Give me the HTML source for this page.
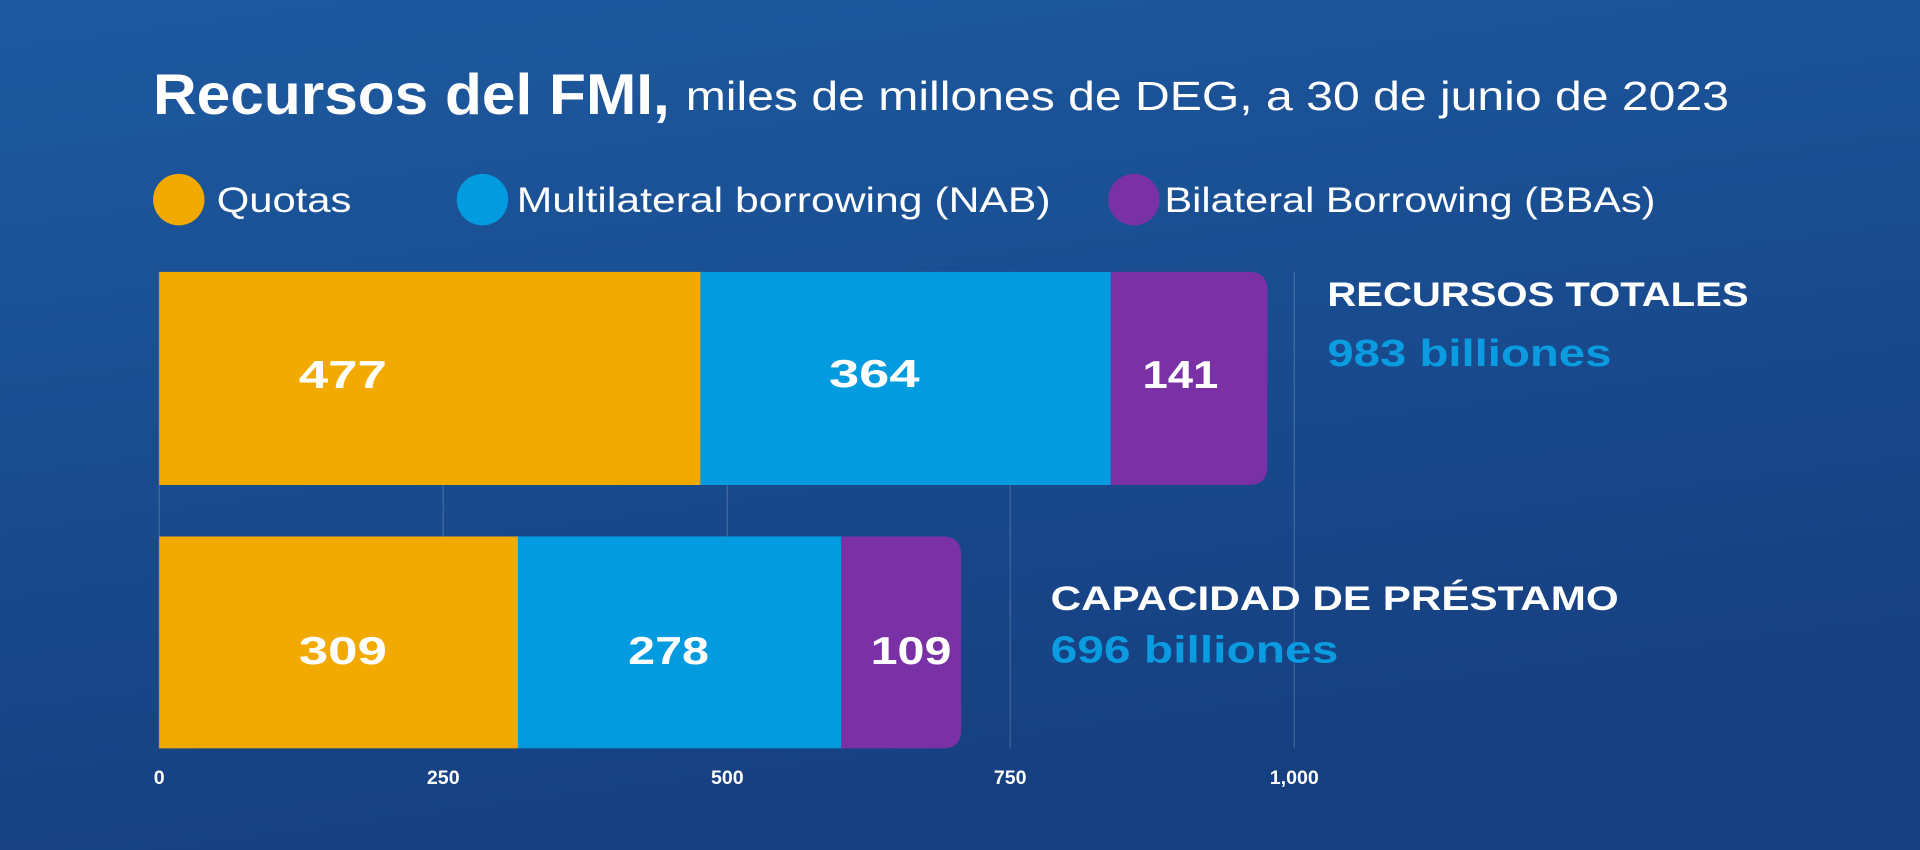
<!DOCTYPE html>
<html><head><meta charset="utf-8"><style>
html,body{margin:0;padding:0;width:1920px;height:850px;overflow:hidden;}
svg{display:block;font-family:"Liberation Sans",sans-serif;}
</style></head><body>
<svg width="1920" height="850" viewBox="0 0 1568 694" preserveAspectRatio="none">
<defs>
<linearGradient id="bg" x1="0" y1="0" x2="0.3" y2="1">
<stop offset="0" stop-color="#1d5aa0"/><stop offset="1" stop-color="#163f80"/>
</linearGradient>
</defs>
<rect width="1568" height="694" fill="url(#bg)"/>
<g stroke="#ffffff" stroke-opacity="0.18" stroke-width="1">
<line x1="362" y1="222" x2="362" y2="611"/>
<line x1="594" y1="222" x2="594" y2="611"/>
<line x1="825" y1="222" x2="825" y2="611"/>
<line x1="1057" y1="222" x2="1057" y2="611"/>
<line x1="130" y1="222" x2="130" y2="611"/>
</g>
<text x="125" y="93" fill="#fff" font-size="47" font-weight="bold" textLength="422" lengthAdjust="spacingAndGlyphs">Recursos del FMI,</text>
<text x="560" y="90" fill="#fff" font-size="33" textLength="852" lengthAdjust="spacingAndGlyphs">miles de millones de DEG, a 30 de junio de 2023</text>
<circle cx="146" cy="163" r="21" fill="#f2a900"/>
<text x="177" y="173" fill="#fff" font-size="29" textLength="110" lengthAdjust="spacingAndGlyphs">Quotas</text>
<circle cx="394" cy="163" r="21" fill="#039be0"/>
<text x="422" y="173" fill="#fff" font-size="29" textLength="436" lengthAdjust="spacingAndGlyphs">Multilateral borrowing (NAB)</text>
<circle cx="926" cy="163" r="21" fill="#7b31a6"/>
<text x="951" y="173" fill="#fff" font-size="29" textLength="401" lengthAdjust="spacingAndGlyphs">Bilateral Borrowing (BBAs)</text>
<path d="M907 222 H1020 Q1035 222 1035 237 V381 Q1035 396 1020 396 H907 Z" fill="#7b31a6"/>
<rect x="130" y="222" width="442" height="174" fill="#f2a900"/>
<rect x="572" y="222" width="335" height="174" fill="#039be0"/>
<path d="M687 438 H770 Q785 438 785 453 V596 Q785 611 770 611 H687 Z" fill="#7b31a6"/>
<rect x="130" y="438" width="293" height="173" fill="#f2a900"/>
<rect x="423" y="438" width="264" height="173" fill="#039be0"/>
<g fill="#fff" font-size="32" font-weight="bold" text-anchor="middle">
<text x="280" y="317" textLength="72" lengthAdjust="spacingAndGlyphs">477</text><text x="714" y="316" textLength="74" lengthAdjust="spacingAndGlyphs">364</text><text x="964" y="317" textLength="62" lengthAdjust="spacingAndGlyphs">141</text>
<text x="280" y="542" textLength="72" lengthAdjust="spacingAndGlyphs">309</text><text x="546" y="542" textLength="66" lengthAdjust="spacingAndGlyphs">278</text><text x="744" y="542" textLength="66" lengthAdjust="spacingAndGlyphs">109</text>
</g>
<g font-weight="bold" font-size="28">
<text x="1084" y="250" fill="#fff" textLength="344" lengthAdjust="spacingAndGlyphs">RECURSOS TOTALES</text>
<text x="1084" y="299" fill="#0a9be0" font-size="31" textLength="232" lengthAdjust="spacingAndGlyphs">983 billiones</text>
<text x="858" y="498" fill="#fff" textLength="464" lengthAdjust="spacingAndGlyphs">CAPACIDAD DE PRÉSTAMO</text>
<text x="858" y="541" fill="#0a9be0" font-size="31" textLength="235" lengthAdjust="spacingAndGlyphs">696 billiones</text>
</g>
<g fill="#fff" font-size="16" font-weight="bold" text-anchor="middle">
<text x="130" y="640">0</text><text x="362" y="640">250</text><text x="594" y="640">500</text><text x="825" y="640">750</text><text x="1057" y="640">1,000</text>
</g>
</svg>
</body></html>
